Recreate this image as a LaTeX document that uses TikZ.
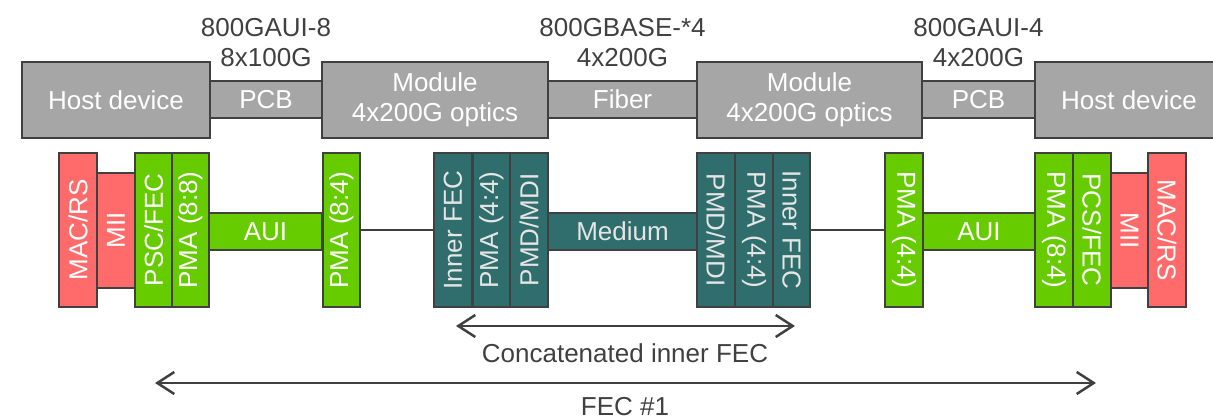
\documentclass[tikz,border=0pt]{standalone}
\usepackage{fontspec}
\setmainfont{Liberation Sans}
\usepackage{tikz}
\usetikzlibrary{arrows.meta,positioning}
\definecolor{boxgray}{HTML}{A6A6A6}
\definecolor{edgegray}{HTML}{404040}
\definecolor{macred}{HTML}{FF6B6B}
\definecolor{pcsgreen}{HTML}{66CC00}
\definecolor{pmdteal}{HTML}{2F6E6C}

\begin{document}
\begin{tikzpicture}[
  x=1pt, y=-1pt,
  font=\fontsize{26}{30}\selectfont,
  blk/.style={draw=edgegray, line width=2pt, inner sep=0pt, text=white, align=center},
  dev/.style={blk, fill=boxgray, minimum height=76pt},
  link/.style={blk, fill=boxgray, minimum height=37pt},
  layer/.style={blk, minimum width=154pt, minimum height=37.5pt},
  upl/.style={layer, rotate=90},
  dnl/.style={layer, rotate=-90},
  red/.style={fill=macred},
  grn/.style={fill=pcsgreen},
  tea/.style={fill=pmdteal, text=white!90!black},
  wire/.style={draw=edgegray, line width=2pt},
  span/.style={{Straight Barb[length=17pt,width=22pt]}-{Straight Barb[length=17pt,width=22pt]}, draw=edgegray, line width=2.5pt},
  note/.style={text=edgegray, align=center}
]
\useasboundingbox (0,0) rectangle (1213,419);
\clip (0,0) rectangle (1213,419);

% physical row
\node[dev, minimum width=188pt] (hostL) at (116,100) {Host device};
\node[link, minimum width=112pt] (pcbL) at (266,99.5) {PCB};
\node[dev, minimum width=226pt] (modL) at (435,100) {Module\\4x200G optics};
\node[link, minimum width=149pt] (fiber) at (622.5,99.5) {Fiber};
\node[dev, minimum width=225pt] (modR) at (809.5,100) {Module\\4x200G optics};
\node[link, minimum width=113pt] (pcbR) at (978.5,99.5) {PCB};
\node[dev, minimum width=188pt] (hostR) at (1129,100) {Host device};

\node[note] (ifL) at (266,42.5) {800GAUI-8\\8x100G};
\node[note] (ifM) at (622.5,42.5) {800GBASE-*4\\4x200G};
\node[note] (ifR) at (978.5,42.5) {800GAUI-4\\4x200G};

% layer row, left side
\node[upl, red] (macL) at (78,230) {MAC/RS};
\node[upl, red, minimum width=115pt] (miiL) at (116,230.5) {MII};
\node[upl, grn] (pcsL) at (153.5,230) {PSC/FEC};
\node[upl, grn] (pmaL) at (190.5,230) {PMA (8:8)};
\node[blk, grn, minimum width=113pt, minimum height=37pt] (auiL) at (265.5,231.5) {AUI};
\node[upl, grn] (pmaML) at (341.5,230) {PMA (8:4)};

% layer row, modules
\node[upl, tea] (ifecL) at (453,230) {Inner FEC};
\node[upl, tea] (pmaTL) at (491.5,230) {PMA (4:4)};
\node[upl, tea] (pmdL) at (529,230) {PMD/MDI};
\node[blk, tea, minimum width=149pt, minimum height=37pt] (medium) at (622.5,231.5) {Medium};
\node[dnl, tea] (pmdR) at (716,230) {PMD/MDI};
\node[dnl, tea] (pmaTR) at (754,230) {PMA (4:4)};
\node[dnl, tea] (ifecR) at (791.5,230) {Inner FEC};

% layer row, right side
\node[dnl, grn] (pmaMR) at (904,230) {PMA (4:4)};
\node[blk, grn, minimum width=112pt, minimum height=37pt] (auiR) at (979,231.5) {AUI};
\node[dnl, grn] (pmaR) at (1054,230) {PMA (8:4)};
\node[dnl, grn] (pcsR) at (1092,230) {PCS/FEC};
\node[dnl, red, minimum width=115pt] (miiR) at (1129.5,230.5) {MII};
\node[dnl, red] (macR) at (1167,230) {MAC/RS};

\draw[wire] (pmaML.south) -- (ifecL.north);
\draw[wire] (ifecR.north) -- (pmaMR.south);

% FEC spans
\coordinate (cfA) at (456,326);
\coordinate (cfB) at (795,326);
\draw[span] (cfA) -- (cfB);
\node[note] (cfLbl) at (625,353) {Concatenated inner FEC};
\coordinate (fecA) at (155,383);
\coordinate (fecB) at (1096,383);
\draw[span] (fecA) -- (fecB);
\node[note] (fecLbl) at (625,407) {FEC \#1};
\end{tikzpicture}
\end{document}
